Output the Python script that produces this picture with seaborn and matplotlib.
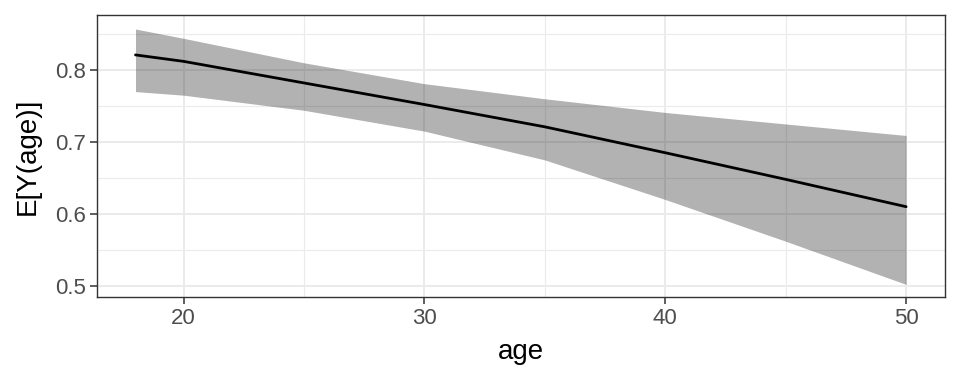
import numpy as np
import pandas as pd
import matplotlib
matplotlib.use("Agg")
import matplotlib.pyplot as plt
import seaborn as sns

# valores
age = [18, 20, 25, 30, 35, 40, 45, 50]
fit = [0.821, 0.812, 0.782, 0.752, 0.721, 0.685, 0.648, 0.610]
upper = [0.857, 0.844, 0.810, 0.781, 0.760, 0.741, 0.725, 0.709]
lower = [0.770, 0.765, 0.744, 0.715, 0.675, 0.620, 0.562, 0.502]

df = pd.DataFrame({"age": age, "fit": fit, "upper": upper, "lower": lower})

sns.set_theme(style="whitegrid")
plt.rcParams["font.family"] = ["Liberation Sans", "DejaVu Sans"]

fig = plt.figure(figsize=(9.6, 3.84), dpi=100)
ax = fig.add_axes([0.101, 0.2266, 0.883, 0.7344])

ax.fill_between(df["age"], df["lower"], df["upper"], color="black", alpha=0.3,
                linewidth=0, zorder=2)
sns.lineplot(data=df, x="age", y="fit", color="black", linewidth=2.0, ax=ax, zorder=3)

ax.set_xlim(16.4, 51.6)
ax.set_ylim(0.4845, 0.8765)
ax.set_xticks([20, 30, 40, 50])
ax.set_yticks([0.5, 0.6, 0.7, 0.8])
ax.set_xticks([25, 35, 45], minor=True)
ax.set_yticks([0.55, 0.65, 0.75, 0.85], minor=True)
ax.set_yticklabels(["0.5", "0.6", "0.7", "0.8"])

ax.grid(which="major", color="#EBEBEB", linewidth=1.4, zorder=0)
ax.grid(which="minor", color="#EBEBEB", linewidth=0.8, zorder=0)
ax.set_axisbelow(True)

for s in ax.spines.values():
    s.set_color("#333333")
    s.set_linewidth(1.0)

ax.tick_params(which="major", length=5, width=1.1, color="#333333",
               labelcolor="#4D4D4D", labelsize=16, pad=3, left=True, bottom=True)
ax.tick_params(which="minor", length=0)

ax.set_xlabel("age", fontsize=20, color="black", labelpad=7)
ax.set_ylabel("E[Y(age)]", fontsize=20, color="black", labelpad=10)

fig.savefig("out.png", dpi=100)
